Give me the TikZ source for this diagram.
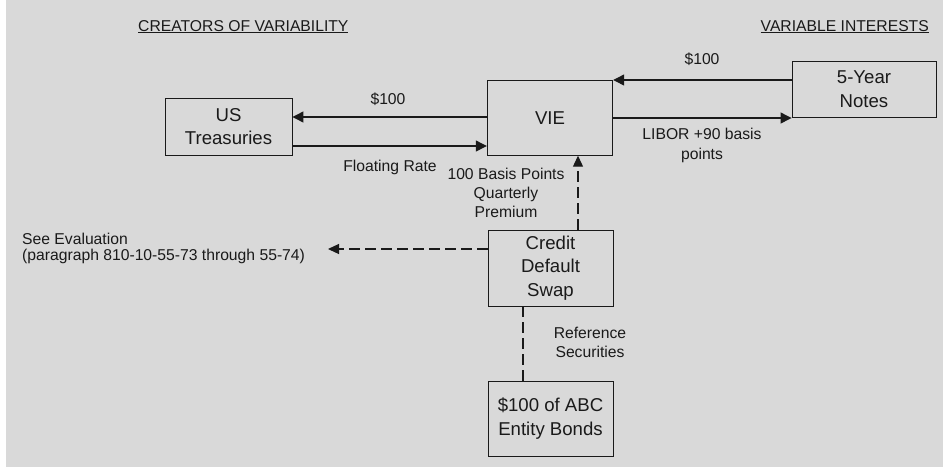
\documentclass[tikz,border=0pt]{standalone}
\usepackage{fontspec}
\setmainfont{Liberation Sans}
\usetikzlibrary{arrows.meta}
\definecolor{bg}{HTML}{D9D9D9}
\definecolor{ink}{HTML}{1A1A1A}
\begin{document}
\begin{tikzpicture}[x=1pt,y=-1pt,
 box/.style={draw=ink, line width=0.9pt, inner sep=0pt, align=center, font=\fontsize{18.6}{23.5}\selectfont, text=ink},
 lbl/.style={align=center, font=\fontsize{15.7}{19.3}\selectfont, text=ink, inner sep=0pt},
 arr/.style={line width=1.2pt, draw=ink, -{Triangle[length=11pt,width=11pt]}},
 darr/.style={line width=1.2pt, draw=ink, dash pattern=on 11pt off 5pt, -{Triangle[length=11pt,width=10pt]}},
 dline/.style={line width=1.2pt, draw=ink, dash pattern=on 11pt off 5pt}]
\useasboundingbox (0,0) rectangle (943,467);
\fill[white] (0,0) rectangle (943,467);
\fill[bg] (6,0) rectangle (943,467);

% headings
\node[lbl, anchor=base west] (hleft) at (138,31) {\underline{CREATORS OF VARIABILITY}};
\node[lbl, anchor=base east] (hright) at (929,31) {\underline{VARIABLE INTERESTS}};

% boxes
\node[box, minimum width=127pt, minimum height=57pt] (US) at (228.5,126.5) {US\\Treasuries};
\node[box, minimum width=125.5pt, minimum height=74.5pt] (VIE) at (550,118) {VIE};
\node[box, minimum width=144pt, minimum height=56pt] (Notes) at (864,89) {5-Year\\Notes};
\node[box, minimum width=125pt, minimum height=76pt] (CDS) at (550.5,268) {Credit\\Default\\Swap};
\node[box, minimum width=125pt, minimum height=75pt] (Bonds) at (550.5,418.5) {\$100 of ABC\\Entity Bonds};

% solid arrows
\draw[arr] (VIE.west |- 0,117) -- (US.east |- 0,117);
\draw[arr] (US.east |- 0,146) -- (VIE.west |- 0,146);
\draw[arr] (Notes.west |- 0,80) -- (VIE.east |- 0,80);
\draw[arr] (VIE.east |- 0,118) -- (Notes.west |- 0,118);

% dashed connectors
\coordinate (evalpt) at (328,249);
\draw[darr] (CDS.north -| 578,0) -- (VIE.south -| 578,0);
\draw[darr] (CDS.west |- 0,249) -- (evalpt);
\draw[dline] (CDS.south -| 523,0) -- (Bonds.north -| 523,0);

% labels
\node[lbl] (l1) at (388,99) {\$100};
\node[lbl] (l2) at (390,167) {Floating Rate};
\node[lbl] (l3) at (702,59) {\$100};
\node[lbl] (l4) at (702,145.5) {LIBOR +90 basis\\points};
\node[lbl] (l5) at (506,193) {100 Basis Points\\Quarterly\\Premium};
\node[lbl, anchor=west, align=left, font=\fontsize{15.7}{16}\selectfont] (l6) at (22,248) {See Evaluation\\(paragraph 810-10-55-73 through 55-74)};
\node[lbl] (l7) at (590,342.5) {Reference\\Securities};
\end{tikzpicture}
\end{document}
